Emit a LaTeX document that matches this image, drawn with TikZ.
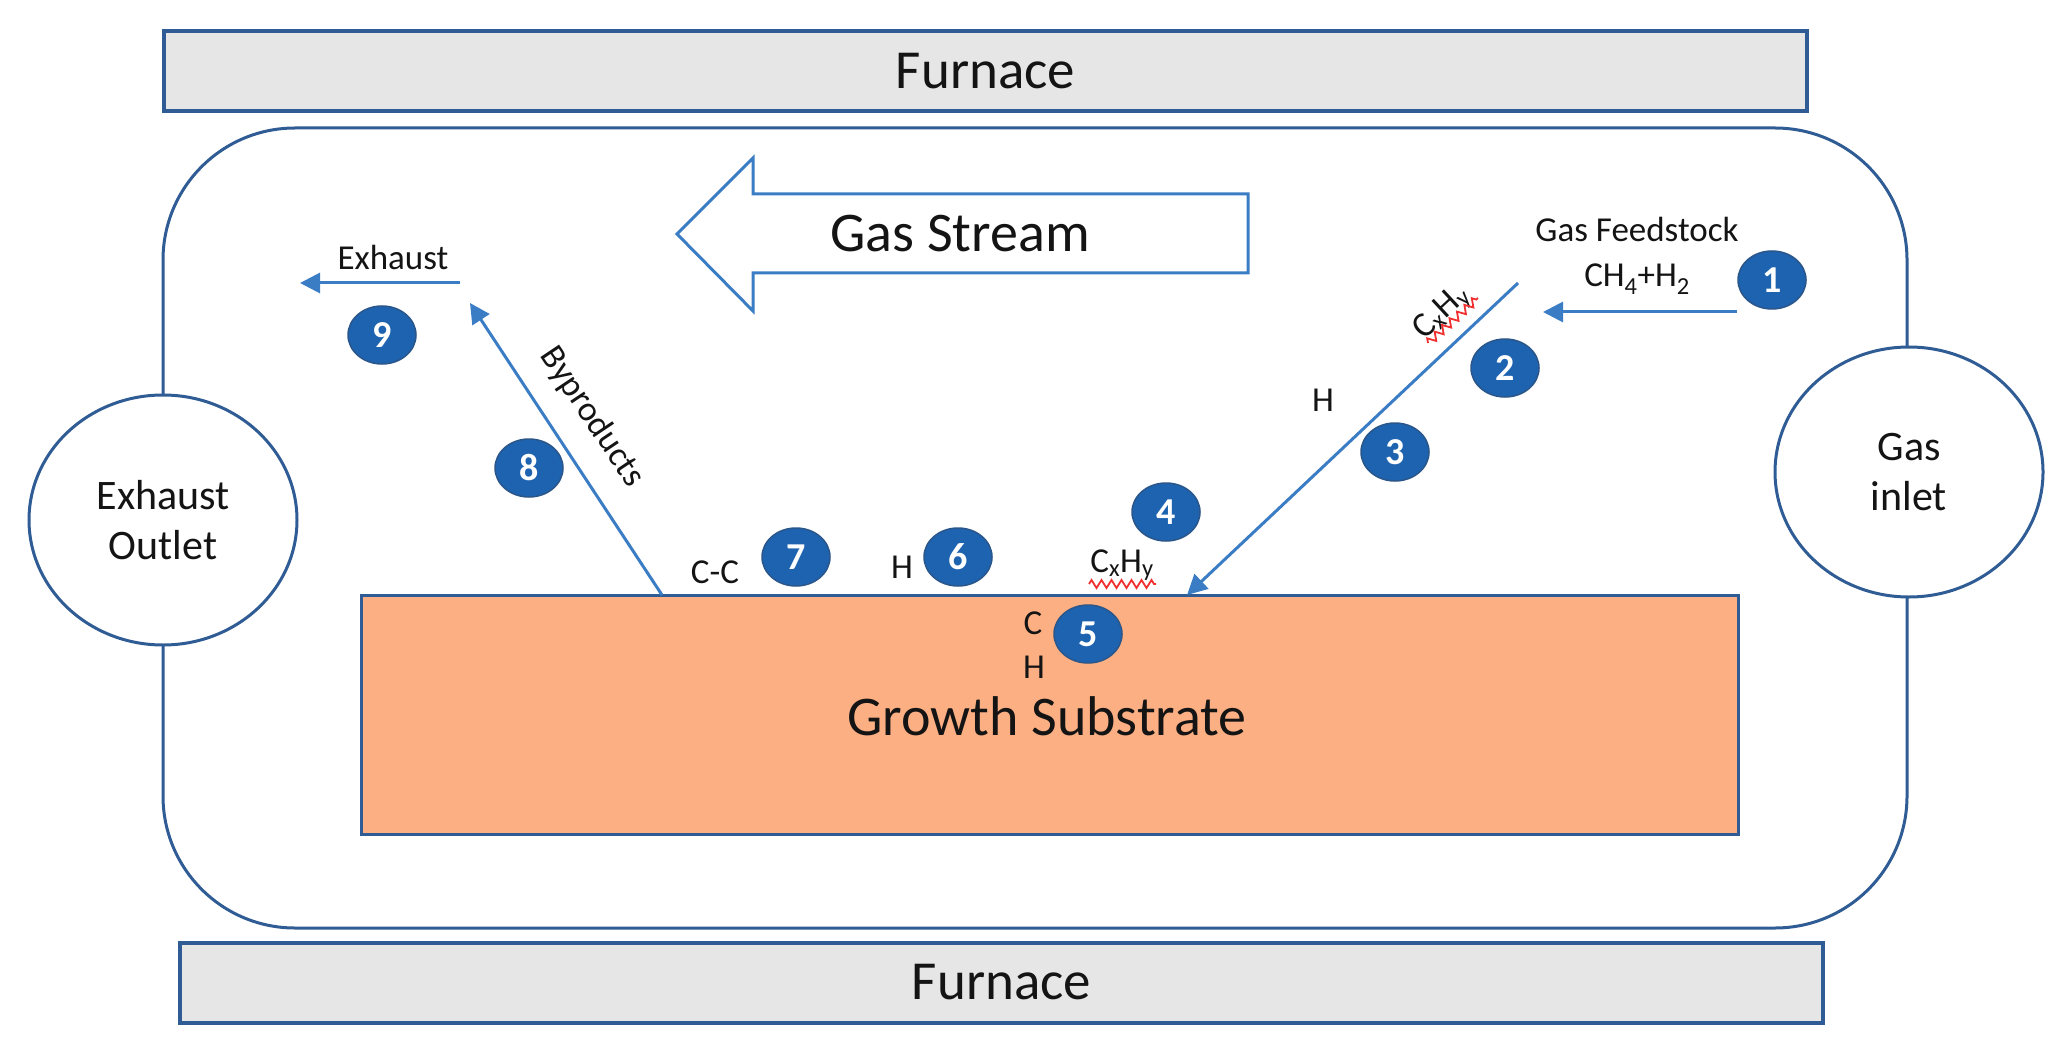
\documentclass[tikz,border=0pt]{standalone}
\usepackage{fontspec}
\setmainfont{Carlito}
\usetikzlibrary{arrows.meta,shapes.geometric,decorations.pathmorphing}
\definecolor{darkblue}{HTML}{2F5C94}
\definecolor{arrowblue}{HTML}{3B7DC4}
\definecolor{badgeblue}{HTML}{1E63B0}
\definecolor{badgeedge}{HTML}{2A568A}
\definecolor{furnacegray}{HTML}{E6E6E6}
\definecolor{substratefill}{HTML}{FCAF83}
\definecolor{txt}{HTML}{141414}
\definecolor{squiggle}{HTML}{F03030}
\begin{document}
\begin{tikzpicture}[x=1pt,y=-1pt,
  every node/.style={text=txt},
  furnacebox/.style={draw=darkblue, line width=4pt, fill=furnacegray, inner sep=0pt,
    minimum height=80pt, font=\fontsize{55}{60}\selectfont},
  port/.style={ellipse, draw=darkblue, line width=3pt, fill=white, inner sep=0pt,
    minimum width=268pt, minimum height=250pt, align=center, font=\fontsize{42}{50}\selectfont},
  badge/.style={ellipse, draw=badgeedge, line width=1.5pt, fill=badgeblue, text=white,
    inner sep=0pt, minimum width=68pt, minimum height=58pt,
    font=\fontsize{38}{38}\selectfont\bfseries},
  smalltxt/.style={font=\fontsize{35}{40}\selectfont, inner sep=0pt},
  flowarrow/.style={arrowblue, line width=3pt, -{Triangle[length=20pt,width=20pt]}},
  redwave/.style={squiggle, line width=1.8pt, decorate,
    decoration={zigzag, amplitude=4pt, segment length=10pt}}
]
\useasboundingbox (0,0) rectangle (2060,1064);

% furnaces
\node[furnacebox, minimum width=1643pt] (furnacetop) at (985.5,71) {Furnace};
\node[furnacebox, minimum width=1643pt] (furnacebot) at (1001.5,982.5) {Furnace};

% chamber
\node[draw=darkblue, line width=3pt, rounded corners=132pt, inner sep=0pt,
  minimum width=1744pt, minimum height=800pt] (chamber) at (1035,528) {};

% ports
\node[port] (exhaustport) at (163,520) {Exhaust\\Outlet};
\node[port] (gasinlet) at (1909,472) {Gas\\inlet};

% substrate
\node[draw=darkblue, line width=3pt, fill=substratefill, inner sep=0pt,
  minimum width=1377pt, minimum height=239pt]
  (substrate) at (1049.5,714.5) {};
\node[font=\fontsize{56}{60}\selectfont, inner sep=0pt] (growth) at (1047,716) {Growth Substrate};

% gas stream arrow
\draw[arrowblue, line width=3pt, line join=miter, fill=white]
  (677,234) -- (753,158) -- (753,194) -- (1248,194) -- (1248,273)
  -- (753,273) -- (753,311) -- cycle;
\node[font=\fontsize{56}{60}\selectfont, inner sep=0pt] (gasstream) at (960,234) {Gas Stream};

% feedstock
\node[smalltxt, anchor=base] (feedstock) at (1637,242) {Gas Feedstock};
\node[smalltxt, anchor=base] (feedformula) at (1637,287) {CH\textsubscript{4}+H\textsubscript{2}};
\coordinate (feedstart) at (1737,312);
\coordinate (feedend) at (1543,312);
\draw[flowarrow] (feedstart) -- (feedend);

% incoming line
\coordinate (instart) at (1518,283);
\coordinate (inend) at (1187,595);
\draw[flowarrow] (instart) -- (inend);
\node[smalltxt, rotate=42.9] (cxhytop) at (1442,313) {C\textsubscript{x}H\textsubscript{y}};
\coordinate (wavetopa) at (1428,343);
\coordinate (wavetopb) at (1478,298);
\draw[redwave] (wavetopa) -- (wavetopb);

\node[smalltxt] (hthree) at (1323,400) {H};

% surface labels
\node[smalltxt] (cxhysurf) at (1122,565) {C\textsubscript{x}H\textsubscript{y}};
\coordinate (wavesurfa) at (1089,584);
\coordinate (wavesurfb) at (1156,584);
\draw[redwave] (wavesurfa) -- (wavesurfb);
\node[smalltxt] (hsix) at (902,567) {H};
\node[smalltxt] (cc) at (715,572) {C-C};
\node[smalltxt] (cin) at (1033,623) {C};
\node[smalltxt] (hin) at (1034,667) {H};

% byproducts
\coordinate (bystart) at (662,595);
\coordinate (byend) at (470,303);
\draw[flowarrow] (bystart) -- (byend);
\node[smalltxt, rotate=-56.2] (byproducts) at (592,417) {Byproducts};

% exhaust
\coordinate (exstart) at (460,283);
\coordinate (exend) at (300,283);
\draw[flowarrow] (exstart) -- (exend);
\node[smalltxt] (exhausttxt) at (393,257) {Exhaust};

% badges
\node[badge] (b1) at (1772,280) {1};
\node[badge] (b2) at (1505,368) {2};
\node[badge] (b3) at (1395,452) {3};
\node[badge] (b4) at (1166,512) {4};
\node[badge] (b5) at (1088,634) {5};
\node[badge] (b6) at (958,557) {6};
\node[badge] (b7) at (796,557) {7};
\node[badge] (b8) at (529,468) {8};
\node[badge] (b9) at (382,335) {9};
\end{tikzpicture}
\end{document}
